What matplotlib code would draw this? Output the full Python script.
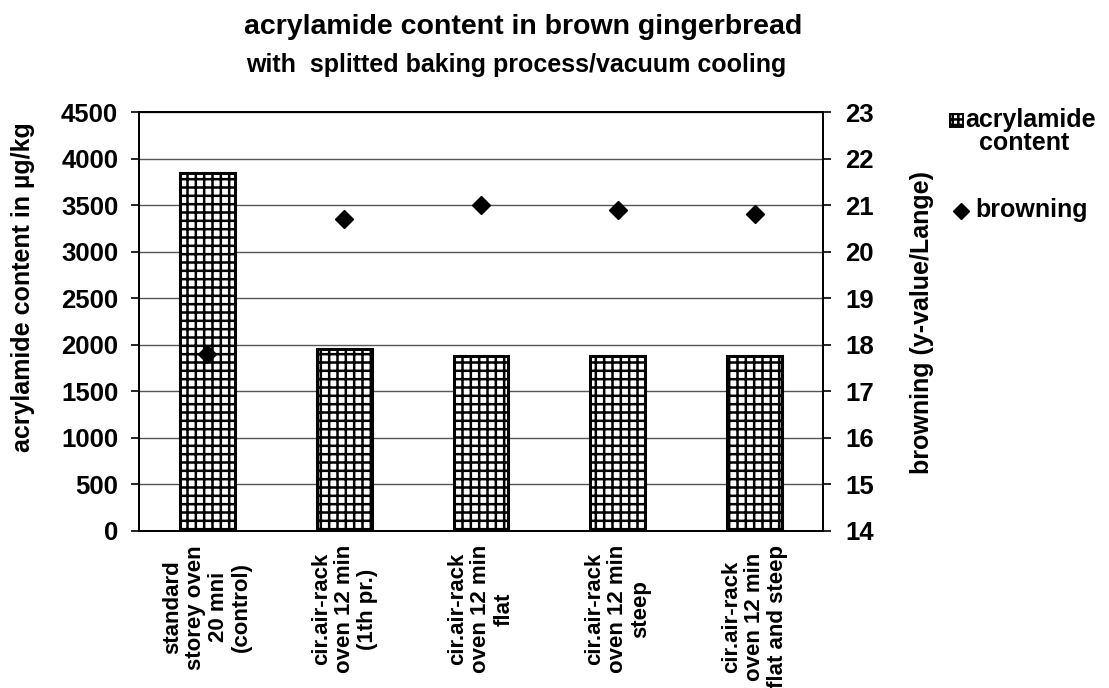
import matplotlib
matplotlib.use("Agg")
import matplotlib.pyplot as plt
from matplotlib.lines import Line2D
from matplotlib.patches import Rectangle
import numpy as np

# acrylamide (left axis, bars) and browning (right axis, diamonds)
categories = [
    "standard\nstorey oven\n20 mni\n(control)",
    "cir.air-rack\noven 12 min\n(1th pr.)",
    "cir.air-rack\noven 12 min\nflat",
    "cir.air-rack\noven 12 min\nsteep",
    "cir.air-rack\noven 12 min\nflat and steep",
]
acrylamide = [3840, 1950, 1880, 1880, 1880]
browning = [17.8, 20.7, 21.0, 20.9, 20.8]

plt.rcParams["font.family"] = ["Liberation Sans", "DejaVu Sans"]
plt.rcParams["font.weight"] = "bold"
plt.rcParams["hatch.linewidth"] = 1.8
plt.rcParams["hatch.color"] = "black"

W, H = 1109, 688
fig = plt.figure(figsize=(W / 100, H / 100), dpi=100)
ax = fig.add_axes([139 / W, 1 - 531 / H, 684 / W, 419 / H])
ax2 = ax.twinx()

x = np.arange(len(categories))
ax.bar(x, acrylamide, width=0.4, color="white", edgecolor="black",
       linewidth=2.2, hatch="++", zorder=2)
ax2.plot(x, browning, linestyle="none", marker="D", markersize=9,
         color="black", zorder=3)

ax.set_xlim(-0.5, len(categories) - 0.5)
ax.set_ylim(0, 4500)
ax.set_yticks(np.arange(0, 4501, 500))
ax2.set_ylim(14, 23)
ax2.set_yticks(np.arange(14, 24, 1))

ax.yaxis.grid(True, color="#555555", linewidth=1.0, zorder=0)
ax.set_axisbelow(True)

ax.set_xticks(x)
ax.set_xticklabels(categories, rotation=90, fontsize=16, fontweight="bold",
                   linespacing=1.12, ha="center", va="top",
                   multialignment="center")
ax.tick_params(axis="x", length=0, pad=10)
ax.tick_params(axis="y", labelsize=18.5, length=6, width=1.2,
               direction="out", pad=9)
ax2.tick_params(axis="y", labelsize=18.5, length=6, width=1.2,
                direction="out", pad=10)

for a in (ax, ax2):
    for s in a.spines.values():
        s.set_color("black")
        s.set_linewidth(1.3)

ax.set_ylabel("acrylamide content in µg/kg", fontsize=18, fontweight="bold")
ax.yaxis.set_label_coords(-(139 - 35) / 684, (531 - 287) / 419)
ax2.set_ylabel("browning (y-value/Lange)", fontsize=18, fontweight="bold")
ax2.yaxis.set_label_coords((910 - 139) / 684, (531 - 322) / 419)

fig.text(523 / W, 1 - 34 / H, "acrylamide content in brown gingerbread",
         ha="center", va="baseline", fontsize=20.5, fontweight="bold")
fig.text(516 / W, 1 - 72 / H, "with  splitted baking process/vacuum cooling",
         ha="center", va="baseline", fontsize=18, fontweight="bold")

# legend, drawn in figure coordinates to the right of the plot
sq = Rectangle((950 / W, 1 - 127 / H), 13 / W, 13 / H,
               transform=fig.transFigure, facecolor="white",
               edgecolor="black", hatch="+++", linewidth=1.4)
fig.add_artist(sq)
fig.text(965 / W, 1 - 120 / H, "acrylamide", ha="left", va="center",
         fontsize=18, fontweight="bold")
fig.text(1024 / W, 1 - 143 / H, "content", ha="center", va="center",
         fontsize=18, fontweight="bold")
fig.add_artist(Line2D([961 / W], [1 - 211 / H], marker="D",
                      markersize=8, color="black", linestyle="none",
                      transform=fig.transFigure))
fig.text(975 / W, 1 - 210 / H, "browning", ha="left", va="center",
         fontsize=18, fontweight="bold")

fig.savefig("out.png", dpi=100)
